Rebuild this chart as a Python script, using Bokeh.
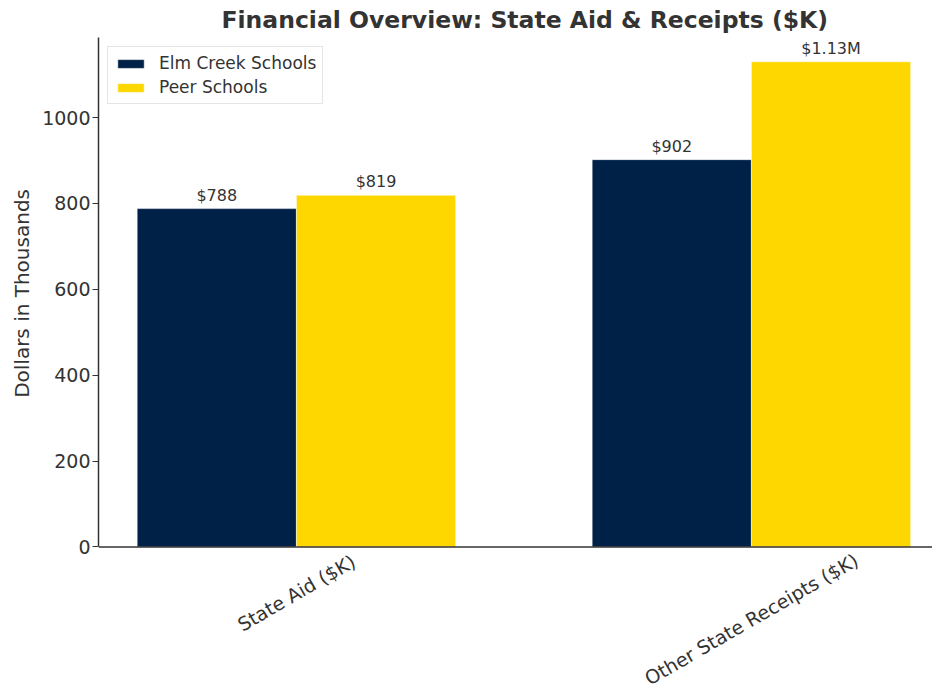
import math
from bokeh.plotting import figure
from bokeh.models import (ColumnDataSource, Range1d, FixedTicker, LabelSet,
                          Legend, LegendItem, Span, Title)
from bokeh.core.properties import value
from bokeh.embed import file_html
from bokeh.resources import INLINE

# ---- data ----
categories = ["State Aid ($K)", "Other State Receipts ($K)"]
series_names = ["Elm Creek Schools", "Peer Schools"]
elm_values = [788, 902]
peer_values = [819, 1130]
y_ticks = [0, 200, 400, 600, 800, 1000]
title_text = "Financial Overview: State Aid & Receipts ($K)"
y_label = "Dollars in Thousands"

# ---- style ----
colors = ["#002147", "#FFD700"]
bar_w = 0.35
FONT = "DejaVu Sans"
TXT = "#333333"
W, H = 932, 688
TOP, LEFT = 35, 98
PLOT_H = 511          # pixel height of the 0..ymax part
XLAB_PX = 19
YLAB_PX = 20


def fmt(v):
    return f"${v/1000:.2f}M" if v >= 1000 else f"${v:,.0f}"


idx = list(range(len(categories)))
ymax = max(elm_values + peer_values) * 1.05
px_per_unit = PLOT_H / ymax
below_px = H - TOP - PLOT_H
y_lo = -below_px / px_per_unit
x_left = -bar_w - 0.05 * (len(categories) - 1 + 2 * bar_w)

p = figure(width=W, height=H, output_backend="svg", toolbar_location=None,
           x_range=Range1d(x_left, 1.398), y_range=Range1d(y_lo, ymax),
           x_axis_type=None,
           min_border_left=LEFT, min_border_right=0, min_border_top=TOP,
           min_border_bottom=0)
p.outline_line_color = None
p.xgrid.visible = False
p.ygrid.visible = False

p.title.text = title_text
p.title.align = "left"
p.title.offset = 123
p.title.standoff = 7
p.title.text_font = FONT
p.title.text_font_size = "23.5px"
p.title.text_font_style = "bold"
p.title.text_color = TXT

src_elm = ColumnDataSource(dict(x=[i - bar_w / 2 for i in idx], top=elm_values,
                                lab=[fmt(v) for v in elm_values]))
src_peer = ColumnDataSource(dict(x=[i + bar_w / 2 for i in idx], top=peer_values,
                                 lab=[fmt(v) for v in peer_values]))

r1 = p.vbar(x="x", top="top", bottom=0, width=bar_w, source=src_elm,
            fill_color=colors[0], line_color="white", line_width=0.5)
r2 = p.vbar(x="x", top="top", bottom=0, width=bar_w, source=src_peer,
            fill_color=colors[1], line_color="white", line_width=0.5)

for src in (src_elm, src_peer):
    p.add_layout(LabelSet(x="x", y="top", text="lab", source=src, text_align="center",
                          text_baseline="bottom", y_offset=4, text_font=value(FONT),
                          text_font_size="16px", text_color=TXT))

# baseline (x axis spine)
p.add_layout(Span(location=0, dimension="width", line_color=TXT, line_width=1.5))

# y axis
ya = p.yaxis[0]
ya.bounds = (0, ymax)
ya.ticker = FixedTicker(ticks=y_ticks)
ya.major_label_text_font = FONT
ya.major_label_text_font_size = "19px"
ya.major_label_text_color = TXT
ya.major_label_standoff = 2
ya.major_tick_out = 6
ya.major_tick_in = 0
ya.minor_tick_line_color = None
ya.axis_line_color = TXT
ya.axis_line_width = 1.5
ya.major_tick_line_color = TXT

# y-axis label, centred on the 0..ymax span (measured from the top of the frame)
label_len_px = len(y_label) * YLAB_PX * 0.52
ylab = Title(text=y_label, align="right",
             offset=PLOT_H / 2 - label_len_px / 2,
             standoff=12, text_font=FONT, text_font_size=f"{YLAB_PX}px",
             text_font_style="normal", text_color=TXT)
p.add_layout(ylab, "left")

legend = Legend(items=[LegendItem(label=series_names[0], renderers=[r1]),
                       LegendItem(label=series_names[1], renderers=[r2])],
                location="top_left")
legend.glyph_width = 33
legend.glyph_height = 11
legend.label_text_font = FONT
legend.label_text_font_size = "17px"
legend.label_text_color = TXT
legend.label_standoff = 12
legend.spacing = 4
legend.padding = 6
legend.margin = 9
legend.border_line_color = "#cccccc"
legend.background_fill_alpha = 0.8
p.add_layout(legend)

# rotated, centred category labels below the baseline
ang = math.radians(30)
ys = []
for cat in categories:
    w = len(cat) * XLAB_PX * 0.505
    h = XLAB_PX * 1.15
    off = 3 + w / 2 * math.sin(ang) + h / 2 * math.cos(ang)
    ys.append(-off / px_per_unit)
p.text(x=idx, y=ys, text=categories, angle=ang, text_align="center",
       text_baseline="middle", text_font=value(FONT),
       text_font_size=f"{XLAB_PX}px", text_color=TXT)

open("out.html", "w").write(file_html(p, INLINE))
